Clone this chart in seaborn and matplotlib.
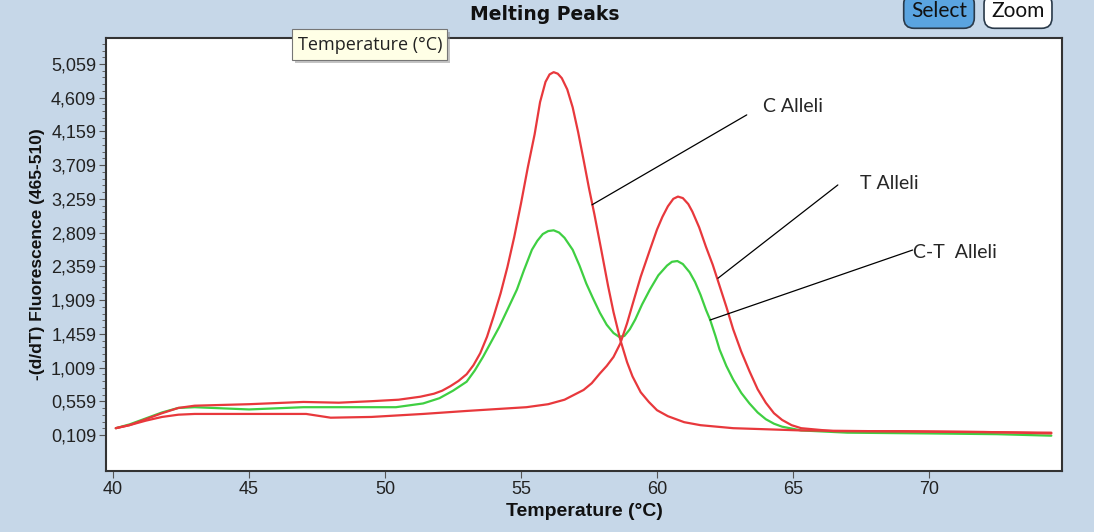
import numpy as np
import pandas as pd
import seaborn as sns
import matplotlib.pyplot as plt
from matplotlib.patches import Rectangle
from matplotlib.ticker import FixedLocator

# melting peak curves
c_temp = [40.1, 40.6, 41.2, 41.8, 42.4, 43.0, 45.0, 47.0, 48.3, 49.5, 50.5, 51.3, 51.8,
          52.1, 52.4, 52.7, 53.0, 53.25, 53.5, 53.75, 54.0, 54.25, 54.5, 54.75, 55.0,
          55.25, 55.5, 55.7, 55.9, 56.05, 56.2, 56.35, 56.5, 56.7, 56.9, 57.1, 57.3,
          57.5, 57.7, 57.95, 58.2, 58.4, 58.65, 58.9, 59.1, 59.4, 59.7, 60.0, 60.4,
          61.0, 61.6, 62.8, 65.3, 68.0, 71.0, 74.5]
c_val = [0.20, 0.24, 0.32, 0.40, 0.47, 0.50, 0.52, 0.55, 0.54, 0.56, 0.58, 0.62, 0.66,
         0.70, 0.76, 0.83, 0.92, 1.04, 1.20, 1.42, 1.70, 2.00, 2.35, 2.75, 3.20,
         3.68, 4.12, 4.55, 4.82, 4.92, 4.95, 4.93, 4.87, 4.72, 4.48, 4.15, 3.78,
         3.40, 3.05, 2.58, 2.10, 1.75, 1.38, 1.08, 0.89, 0.68, 0.55, 0.44, 0.36,
         0.28, 0.24, 0.20, 0.17, 0.16, 0.15, 0.14]

t_temp = [40.1, 40.6, 41.2, 41.8, 42.4, 43.0, 45.0, 47.1, 48.0, 49.5, 51.4, 53.0, 55.2,
          56.0, 56.6, 57.3, 57.6, 57.9, 58.15, 58.4, 58.65, 58.9, 59.1, 59.4, 59.74,
          60.0, 60.2, 60.4, 60.6, 60.77, 60.95, 61.15, 61.3, 61.55, 61.8, 62.05, 62.3,
          62.55, 62.8, 63.1, 63.4, 63.7, 64.0, 64.3, 64.6, 64.95, 65.3, 66.5, 69.0,
          72.0, 74.5]
t_val = [0.20, 0.24, 0.30, 0.35, 0.38, 0.39, 0.39, 0.39, 0.34, 0.35, 0.39, 0.43, 0.48,
         0.52, 0.58, 0.71, 0.80, 0.93, 1.03, 1.15, 1.33, 1.60, 1.85, 2.22, 2.58,
         2.85, 3.02, 3.16, 3.26, 3.29, 3.27, 3.19, 3.09, 2.88, 2.62, 2.38, 2.10,
         1.82, 1.52, 1.22, 0.96, 0.72, 0.54, 0.40, 0.31, 0.24, 0.20, 0.16, 0.16,
         0.15, 0.13]

ct_temp = [40.1, 40.6, 41.2, 41.8, 42.4, 43.0, 45.0, 47.0, 50.4, 51.4, 52.0, 52.5, 53.0,
           53.3, 53.6, 53.9, 54.2, 54.5, 54.85, 55.1, 55.4, 55.6, 55.8, 56.0, 56.2,
           56.4, 56.6, 56.9, 57.15, 57.4, 57.65, 57.9, 58.15, 58.4, 58.6, 58.8, 59.0,
           59.2, 59.45, 59.74, 60.05, 60.37, 60.55, 60.75, 60.95, 61.2, 61.4, 61.6,
           61.8, 61.95, 62.15, 62.3, 62.55, 62.8, 63.1, 63.4, 63.7, 64.0, 64.3, 64.6,
           65.3, 67.0, 70.0, 72.5, 74.5]
ct_val = [0.20, 0.25, 0.33, 0.41, 0.47, 0.48, 0.45, 0.48, 0.48, 0.53, 0.60, 0.70, 0.82,
          0.97, 1.15, 1.35, 1.55, 1.78, 2.05, 2.30, 2.58, 2.70, 2.79, 2.83, 2.84,
          2.81, 2.74, 2.58, 2.37, 2.13, 1.93, 1.74, 1.58, 1.47, 1.42, 1.43, 1.52,
          1.65, 1.85, 2.05, 2.24, 2.37, 2.42, 2.43, 2.39, 2.28, 2.15, 1.98,
          1.78, 1.65, 1.43, 1.25, 1.03, 0.85, 0.67, 0.53, 0.41, 0.32, 0.26, 0.22,
          0.17, 0.14, 0.13, 0.12, 0.10]

y_ticks = [0.109, 0.559, 1.009, 1.459, 1.909, 2.359, 2.809, 3.259, 3.709, 4.159, 4.609, 5.059]
y_tick_labels = ["0,109", "0,559", "1,009", "1,459", "1,909", "2,359", "2,809",
                 "3,259", "3,709", "4,159", "4,609", "5,059"]
x_ticks = [40, 45, 50, 55, 60, 65, 70]

df = pd.concat([
    pd.DataFrame({"temp": c_temp, "val": c_val, "sample": "C"}),
    pd.DataFrame({"temp": t_temp, "val": t_val, "sample": "T"}),
    pd.DataFrame({"temp": ct_temp, "val": ct_val, "sample": "CT"}),
])

sns.set_theme(style="white")
bg = "#c6d7e8"
W, H = 1094, 532
fig = plt.figure(figsize=(10.94, 5.32), dpi=100, facecolor=bg)
ax = fig.add_axes([0.0969, 0.1147, 0.8738, 0.8139])
ax.set_facecolor("white")

red = "#e8383c"
green = "#3fcf42"
sns.lineplot(data=df, x="temp", y="val", hue="sample", sort=False, estimator=None,
             palette={"C": red, "T": red, "CT": green}, hue_order=["CT", "T", "C"],
             linewidth=1.6, legend=False, ax=ax)

ax.set_xlim(39.74, 74.89)
ax.set_ylim(-0.371, 5.406)

narrow = ["Liberation Sans Narrow", "Liberation Sans", "DejaVu Sans"]
ax.yaxis.set_major_locator(FixedLocator(y_ticks))
ax.set_yticklabels(y_tick_labels, fontsize=13, family=narrow, color="#222222")
# small ticks between the labelled ones
minor_y = np.arange(y_ticks[0], y_ticks[-1] + 0.4, 0.09)
ax.yaxis.set_minor_locator(FixedLocator(minor_y))
ax.set_xticks(x_ticks)
ax.set_xticklabels([str(t) for t in x_ticks], fontsize=13, family=narrow, color="#222222")
ax.tick_params(axis="both", which="major", direction="out", length=5, width=0.8,
               color="#555555", left=True, bottom=True, pad=2)
ax.tick_params(axis="y", which="minor", direction="out", length=3, width=0.7,
               color="#666666", left=True)

for s in ax.spines.values():
    s.set_color("#333333")
    s.set_linewidth(1.5)

ax.set_xlabel("Temperature (°C)", fontsize=14, fontweight="bold",
              family=narrow, color="#111111", labelpad=4)
ax.set_ylabel("-(d/dT) Fluorescence (465-510)", fontsize=12.5, fontweight="bold",
              family=["Liberation Sans", "DejaVu Sans"], color="#111111", labelpad=4)

# allele labels with leader lines
label_font = ["Lato", "DejaVu Sans"]
ax.plot([57.61, 63.30], [3.18, 4.38], color="black", lw=0.9)
ax.text(63.9, 4.49, "C Alleli", fontsize=14, family=label_font, va="center", ha="left")
ax.plot([62.24, 66.65], [2.20, 3.445], color="black", lw=0.9)
ax.text(67.46, 3.47, "T Alleli", fontsize=14, family=label_font, va="center", ha="left")
ax.plot([61.95, 69.40], [1.643, 2.577], color="black", lw=0.9)
ax.text(69.42, 2.54, "C-T  Alleli", fontsize=14, family=label_font, va="center", ha="left")

fig.text(545 / W, 1 - 14 / H, "Melting Peaks", fontsize=13.5, fontweight="bold",
         ha="center", va="center", color="#111111", family=["DejaVu Sans"])

# tooltip
fig.patches.append(Rectangle((295 / W, 1 - 63 / H), 155 / W, 31 / H, transform=fig.transFigure,
                             facecolor="#8a8a8a", alpha=0.5, edgecolor="none", zorder=5))
fig.patches.append(Rectangle((292 / W, 1 - 60 / H), 155 / W, 31 / H, transform=fig.transFigure,
                             facecolor="#ffffe6", edgecolor="#767676", lw=0.8, zorder=6))
fig.text(370 / W, 1 - 45 / H, "Temperature (°C)", fontsize=13, ha="center", va="center",
         family=["Open Sans", "DejaVu Sans"], color="#222222", zorder=7)

# buttons
fig.text(939 / W, 1 - 11 / H, "Select", fontsize=15, ha="center", va="center",
         family=label_font, color="#111111",
         bbox=dict(boxstyle="round,pad=0.35,rounding_size=0.5", fc="#5aa4e0", ec="#2a3a4a", lw=1.2))
fig.text(1018 / W, 1 - 11 / H, "Zoom", fontsize=15, ha="center", va="center",
         family=label_font, color="#111111",
         bbox=dict(boxstyle="round,pad=0.35,rounding_size=0.5", fc="white", ec="#2a3a4a", lw=1.2))

fig.savefig("out.png", dpi=100, facecolor=bg)
